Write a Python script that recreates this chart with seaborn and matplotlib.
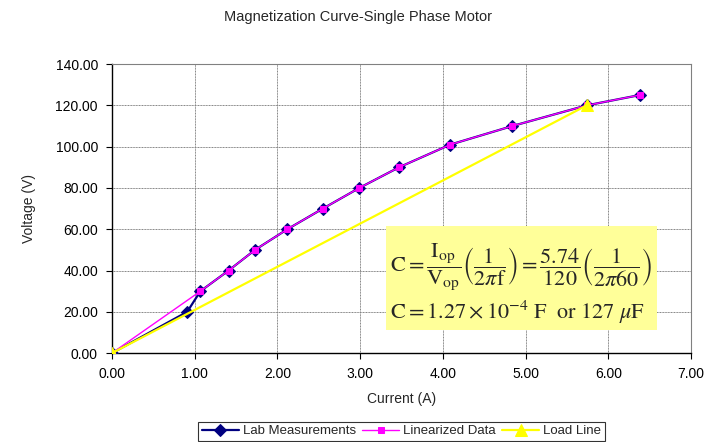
import numpy as np
import pandas as pd
import seaborn as sns
import matplotlib.pyplot as plt

# data
lab_current = [0.0, 0.91, 1.07, 1.41, 1.73, 2.12, 2.55, 2.99, 3.47, 4.09, 4.84, 5.74, 6.38]
lab_voltage = [0.0, 20.0, 30.0, 40.0, 50.0, 60.0, 70.0, 80.0, 90.0, 101.0, 110.0, 120.0, 125.0]
lin_current = [0.0, 1.07, 1.41, 1.73, 2.12, 2.55, 2.99, 3.47, 4.09, 4.84, 5.74, 6.38]
lin_voltage = [0.0, 30.0, 40.0, 50.0, 60.0, 70.0, 80.0, 90.0, 101.0, 110.0, 120.0, 125.0]
load_current = [0.0, 5.74]
load_voltage = [0.0, 120.0]

sns.set_style("white")
plt.rcParams["font.family"] = ["Liberation Sans", "DejaVu Sans"]
plt.rcParams["mathtext.fontset"] = "stix"

fig = plt.figure(figsize=(7.08, 4.42), dpi=100)
ax = fig.add_axes([0.158, 0.201, 0.818, 0.654])

sns.lineplot(x=lab_current, y=lab_voltage, ax=ax, color="#000080", lw=1.6,
             marker="D", markersize=6.5, markeredgecolor="#000080", estimator=None,
             sort=False, label="Lab Measurements", zorder=3)
sns.lineplot(x=lin_current, y=lin_voltage, ax=ax, color="#FF00FF", lw=1.0,
             marker="s", markersize=5, markeredgecolor="#FF00FF", estimator=None,
             sort=False, label="Linearized Data", zorder=4)
sns.lineplot(x=load_current, y=load_voltage, ax=ax, color="#FFFF00", lw=1.6,
             marker="^", markersize=8.5, markeredgecolor="#FFFF00", estimator=None,
             sort=False, label="Load Line", zorder=5)

ax.set_xlim(0, 7)
ax.set_ylim(0, 140)
ax.set_xticks(np.arange(0, 7.01, 1))
ax.set_yticks(np.arange(0, 140.01, 20))
ax.set_xticklabels([f"{v:.2f}" for v in np.arange(0, 7.01, 1)])
ax.set_yticklabels([f"{v:.2f}" for v in np.arange(0, 140.01, 20)])
ax.tick_params(labelsize=10, direction="out", length=4, width=0.8, colors="black",
               bottom=True, left=True, pad=6)
ax.grid(True, color="#808080", lw=0.7, linestyle=(0, (1, 0.6)))
ax.set_axisbelow(True)
for side in ["top", "right"]:
    ax.spines[side].set_color("#808080")
    ax.spines[side].set_linewidth(0.8)
for side in ["left", "bottom"]:
    ax.spines[side].set_color("black")
    ax.spines[side].set_linewidth(1.0)

ax.set_xlabel("Current (A)", fontsize=10, labelpad=8)
ax.set_ylabel("Voltage (V)", fontsize=10, labelpad=14)
fig.text(0.505, 0.962, "Magnetization Curve-Single Phase Motor", ha="center", va="center",
         fontsize=10.5)

eq1 = (r"$\mathrm{C}=\dfrac{\mathrm{I}_{\mathrm{op}}}{\mathrm{V}_{\mathrm{op}}}"
       r"\left(\dfrac{1}{2\pi\mathrm{f}}\right)=\dfrac{5.74}{120}"
       r"\left(\dfrac{1}{2\pi 60}\right)$")
eq2 = r"$\mathrm{C}=1.27\times10^{-4}\ \mathrm{F}\ \ \mathrm{or}\ 127\ \mu\mathrm{F}$"
box = plt.Rectangle((0.473, 0.08), 0.468, 0.36, transform=ax.transAxes,
                    facecolor="#FFFF99", edgecolor="none", zorder=6)
ax.add_patch(box)
ax.text(0.48, 0.30, eq1, transform=ax.transAxes, fontsize=16, va="center", ha="left", zorder=7)
ax.text(0.48, 0.14, eq2, transform=ax.transAxes, fontsize=16, va="center", ha="left", zorder=7)

leg = ax.legend(loc="center", bbox_to_anchor=(0.5, -0.27), ncol=3, fontsize=9.5,
                frameon=True, fancybox=False, edgecolor="black", handlelength=2.8,
                columnspacing=0.5, handletextpad=0.3, borderpad=0.25)
leg.get_frame().set_linewidth(0.8)

fig.savefig("out.png", dpi=100)
